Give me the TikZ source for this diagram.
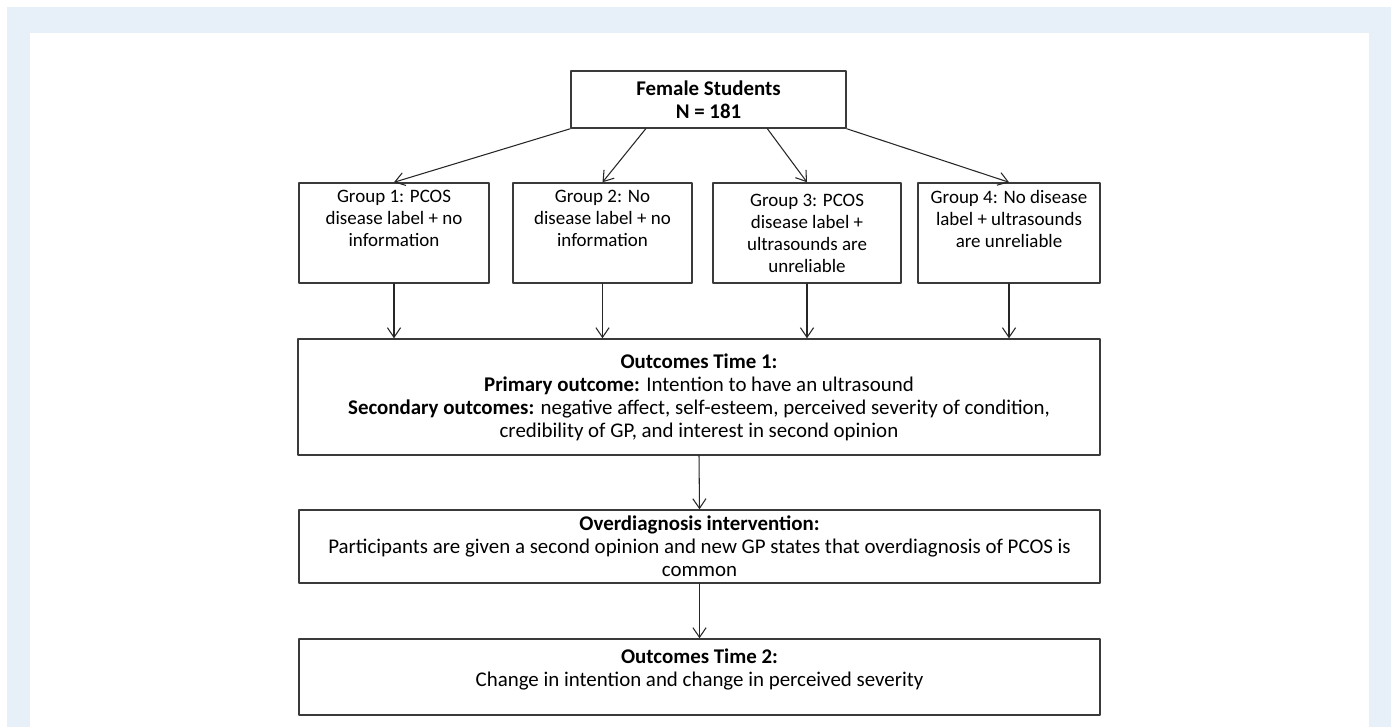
\documentclass[tikz,border=0pt]{standalone}
\usepackage{fontspec}
\setmainfont{Carlito}
\usetikzlibrary{positioning, calc}
\usetikzlibrary{arrows.meta}
\definecolor{panelblue}{HTML}{E7EFF9}
\definecolor{boxgray}{HTML}{3A3A3A}

\begin{document}
\begin{tikzpicture}[x=0.02cm, y=-0.02cm, line cap=round, line join=round,
  font=\fontsize{11.9}{13.1}\selectfont,
  box/.style={draw=boxgray, line width=0.85pt, align=center, inner sep=2pt},
  groupbox/.style={box, minimum height=2.0cm, font=\fontsize{10.8}{12.5}\selectfont},
  arr/.style={draw=black!85, line width=0.6pt, -{Straight Barb[length=5.5pt,width=7.5pt]}}]

\useasboundingbox (0,0) rectangle (1391,727);

% --- Sfondo (pannello) ---
\fill[panelblue] (7,7) rectangle (1391,727);
\fill[white] (30,33) rectangle (1369,727);

% --- Campione ---
\node[box, minimum width=5.5cm, minimum height=1.14cm] (top) at (708.5,99.5)
  {\textbf{Female Students}\\\textbf{N = 181}};

% --- Gruppi ---
\node[groupbox, minimum width=3.8cm] (g1) at (394,233)
  {Group 1: PCOS\\disease label + no\\information\\\strut};
\node[groupbox, minimum width=3.58cm] (g2) at (602.5,233)
  {Group 2: No\\disease label + no\\information\\\strut};
\node[groupbox, minimum width=3.76cm] (g3) at (807,233)
  {Group 3: PCOS\\disease label +\\ultrasounds are\\unreliable};
\node[groupbox, minimum width=3.64cm] (g4) at (1009,233)
  {Group 4: No disease\\label + ultrasounds\\are unreliable\\\strut};

% --- Esiti e intervento ---
\node[box, minimum width=16.04cm, minimum height=2.32cm] (out1) at (699,397)
  {\textbf{Outcomes Time 1:}\\
   \textbf{Primary outcome:} Intention to have an ultrasound\\
   \textbf{Secondary outcomes:} negative affect, self-esteem, perceived severity of condition,\\
   credibility of GP, and interest in second opinion};
\node[box, minimum width=16.02cm, minimum height=1.46cm] (over) at (699.5,546.5)
  {\textbf{Overdiagnosis intervention:}\\
   Participants are given a second opinion and new GP states that overdiagnosis of PCOS is\\
   common};
\node[box, minimum width=16.02cm, minimum height=1.52cm] (out2) at (699.5,677)
  {\textbf{Outcomes Time 2:}\\
   Change in intention and change in perceived severity\\[-2pt]\mbox{}};

% --- Frecce ---
\draw[arr] (top.south west) -- (g1.north);
\draw[arr] ($(top.south west)!0.273!(top.south east)$) -- (g2.north);
\draw[arr] ($(top.south west)!0.713!(top.south east)$) -- (g3.north);
\draw[arr] (top.south east) -- (g4.north);

\foreach \g in {g1,g2,g3,g4}
  \draw[arr] (\g.south) -- (\g.south |- out1.north);

\draw[arr] (out1.south) -- (over.north);
\draw[arr] (over.south) -- (out2.north);
\end{tikzpicture}
\end{document}
